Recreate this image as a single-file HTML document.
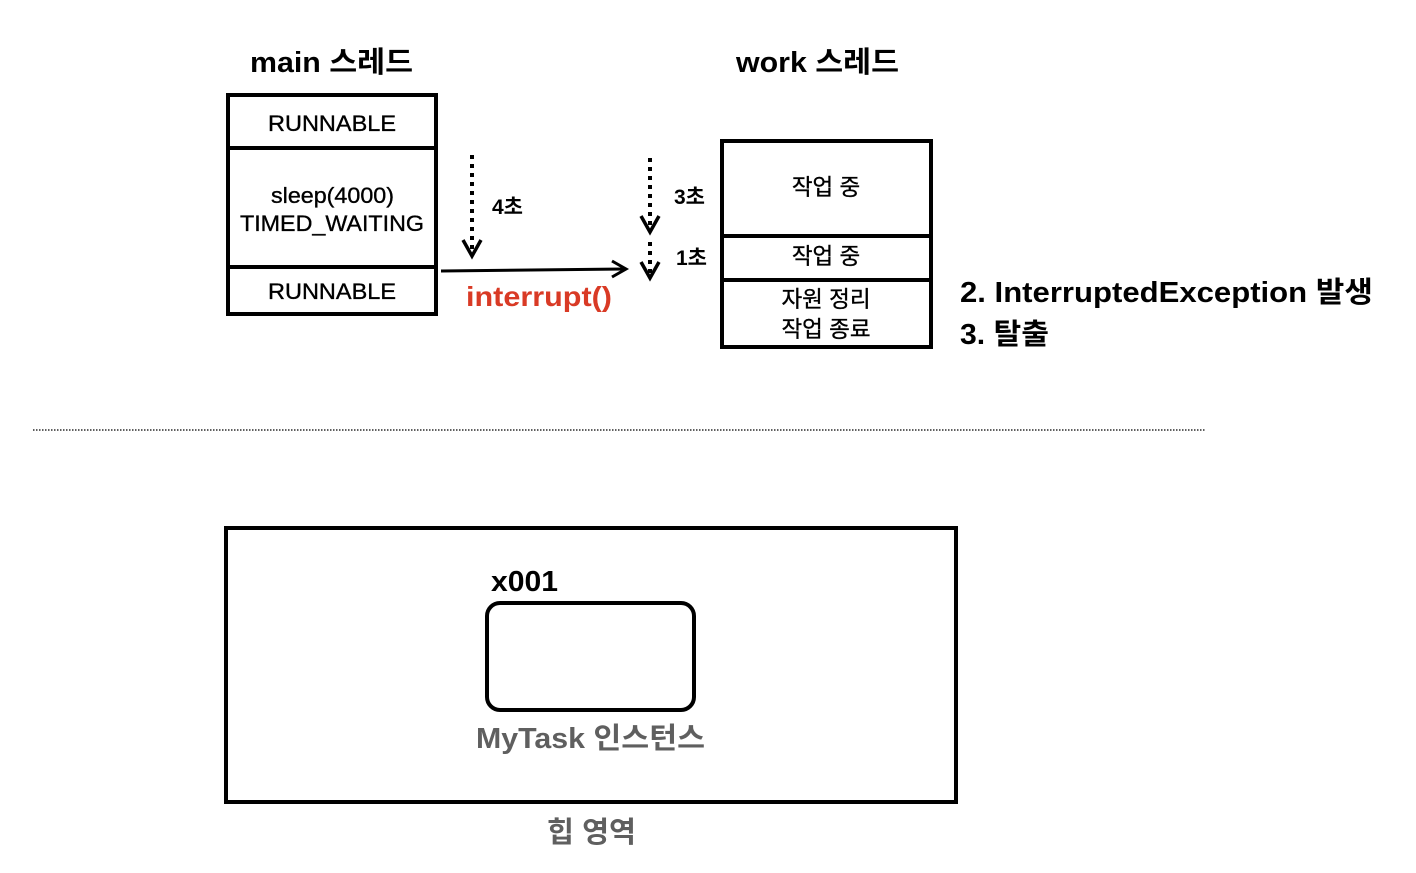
<!DOCTYPE html>
<html><head><meta charset="utf-8"><style>
html,body{margin:0;padding:0;background:#fff;}
svg text{font-family:"Liberation Sans","Noto Sans CJK KR",sans-serif;}
</style></head><body>
<svg width="1416" height="868" viewBox="0 0 1416 868" xmlns="http://www.w3.org/2000/svg">
<g font-weight="bold" font-size="29" fill="#000">
<text x="250" y="72" textLength="163" lengthAdjust="spacingAndGlyphs">main 스레드</text>
<text x="736" y="72" textLength="163" lengthAdjust="spacingAndGlyphs">work 스레드</text>
</g>
<g fill="none" stroke="#000" stroke-width="4">
<rect x="228" y="95" width="208" height="219"/>
<line x1="228" y1="148" x2="436" y2="148"/>
<line x1="228" y1="267" x2="436" y2="267"/>
<rect x="722" y="141" width="209" height="206"/>
<line x1="722" y1="236" x2="931" y2="236"/>
<line x1="722" y1="280" x2="931" y2="280"/>
</g>
<g font-size="22.5" fill="#000" stroke="#000" stroke-width="0.35">
<text x="268" y="131" textLength="128" lengthAdjust="spacingAndGlyphs">RUNNABLE</text>
<text x="271" y="203" textLength="123" lengthAdjust="spacingAndGlyphs">sleep(4000)</text>
<text x="240" y="231" textLength="184" lengthAdjust="spacingAndGlyphs">TIMED_WAITING</text>
<text x="268" y="299" textLength="128" lengthAdjust="spacingAndGlyphs">RUNNABLE</text>
<text x="826" y="195" text-anchor="middle">작업 중</text>
<text x="826" y="264" text-anchor="middle">작업 중</text>
<text x="826" y="307" text-anchor="middle">자원 정리</text>
<text x="826" y="337" text-anchor="middle">작업 종료</text>
</g>
<g stroke="#000" stroke-width="4" fill="none">
<line x1="472" y1="155" x2="472" y2="252" stroke-dasharray="4,5"/>
<polyline points="463,240 472,256 481,240" stroke-width="3.5"/>
<line x1="650" y1="158" x2="650" y2="228" stroke-dasharray="4,5"/>
<polyline points="641,216 650,232 659,216" stroke-width="3.5"/>
<line x1="650" y1="242" x2="650" y2="274" stroke-dasharray="4,5"/>
<polyline points="641,262 650,278 659,262" stroke-width="3.5"/>
<line x1="441" y1="271" x2="624" y2="269" stroke-width="3"/>
<polyline points="612,261 626,269 612,277" stroke-width="3"/>
</g>
<g font-weight="bold" font-size="21" fill="#000">
<text x="492" y="214">4초</text>
<text x="674" y="204">3초</text>
<text x="676" y="265">1초</text>
</g>
<text x="466" y="306" font-weight="bold" font-size="28" fill="#d93a25" textLength="146" lengthAdjust="spacingAndGlyphs">interrupt()</text>
<g font-weight="bold" font-size="29" fill="#000">
<text x="960" y="302" textLength="413" lengthAdjust="spacingAndGlyphs">2. InterruptedException 발생</text>
<text x="960" y="344" textLength="89" lengthAdjust="spacingAndGlyphs">3. 탈출</text>
</g>
<line x1="33" y1="430" x2="1206" y2="430" stroke="#000" stroke-width="1.2" stroke-dasharray="1.5,1.5"/>
<rect x="226" y="528" width="730" height="274" fill="none" stroke="#000" stroke-width="4"/>
<rect x="487" y="603" width="207" height="107" rx="13" fill="none" stroke="#000" stroke-width="4"/>
<text x="491" y="591" font-weight="bold" font-size="29" fill="#000" textLength="67" lengthAdjust="spacingAndGlyphs">x001</text>
<text x="476" y="748" font-weight="bold" font-size="29" fill="#5f5f5f" textLength="229" lengthAdjust="spacingAndGlyphs">MyTask 인스턴스</text>
<text x="547" y="842" font-weight="bold" font-size="29" fill="#5f5f5f" textLength="89" lengthAdjust="spacingAndGlyphs">힙 영역</text>
</svg>
</body></html>
